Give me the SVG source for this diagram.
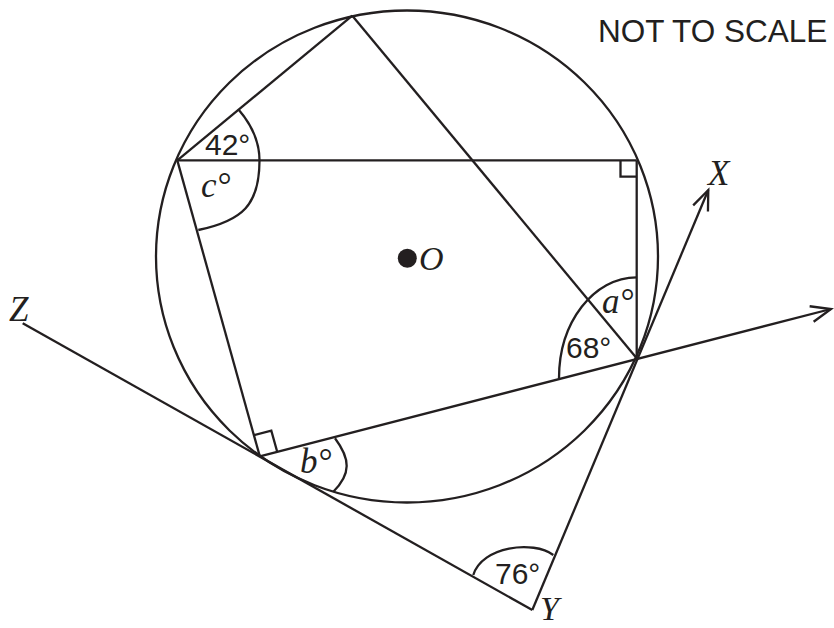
<svg xmlns="http://www.w3.org/2000/svg" width="834" height="628" viewBox="0 0 834 628">
<style>
.ln{fill:none;stroke:#231f20;stroke-width:2.3;stroke-linecap:butt;stroke-linejoin:miter}
.sans{font-family:"Liberation Sans",Arial,sans-serif;fill:#231f20}
.it{font-family:"Liberation Serif","Times New Roman",serif;font-style:italic;fill:#231f20}
</style>
<defs>
<marker id="arr" markerUnits="userSpaceOnUse" markerWidth="30" markerHeight="30" refX="20" refY="8" orient="auto" overflow="visible">
<path d="M0,0 L20,8 L0,16" fill="none" stroke="#231f20" stroke-width="2.3"/>
</marker>
</defs>
<rect width="834" height="628" fill="#ffffff"/>
<g id="circle">
<ellipse class="ln" cx="407" cy="256.5" rx="251" ry="246"/>
<circle cx="407.3" cy="258.3" r="9.5" fill="#231f20"/>
<text class="it" x="419" y="270" font-size="34">O</text>
</g>
<g id="connectors">
<path class="ln" d="M352.3,15.7 L177.3,160.4"/>
<path class="ln" d="M352.3,15.7 L636.7,358.3"/>
<path class="ln" d="M177.3,160.4 L636.7,160.4"/>
<path class="ln" d="M636.7,160.4 L636.7,358.3"/>
<path class="ln" d="M177.3,160.4 L259.8,456.3"/>
<path class="ln" d="M259.8,456.3 L831,309" marker-end="url(#arr)"/>
<path class="ln" d="M22.7,323.3 L532.3,610"/>
<path class="ln" d="M532.3,610 L708.3,190" marker-end="url(#arr)"/>
</g>
<g id="right-angles">
<path class="ln" d="M620.5,160.4 V176.6 H636.7"/>
<path class="ln" d="M253.9,435.1 L271.3,430.6 L277.2,451.8"/>
</g>
<g id="angle-L">
<path class="ln" d="M238.3,109.3 C251.4,124.4 259.5,140 259.5,160.4 C259.5,205 242.3,220.7 198.3,230"/>
<text class="sans" x="205" y="155" font-size="30">42°</text>
<text class="it" x="201" y="197" font-size="35">c°</text>
</g>
<g id="angle-P">
<path class="ln" d="M636.7,277.3 C593.7,277.3 559,322.3 559,378.3"/>
<text class="it" x="602" y="313" font-size="35">a°</text>
<text class="sans" x="566" y="358" font-size="30">68°</text>
</g>
<g id="angle-Q">
<path class="ln" d="M335,438.3 C350.4,458.9 351.3,473.7 333.3,491.7"/>
<text class="it" x="300" y="473" font-size="35">b°</text>
</g>
<g id="angle-Y">
<path class="ln" d="M473.3,575 C482,546.2 533.3,540 553.3,555"/>
<text class="sans" x="495" y="584" font-size="30">76°</text>
</g>
<g id="labels">
<text class="it" x="708" y="185" font-size="35">X</text>
<text class="it" x="540" y="620" font-size="34">Y</text>
<text class="it" x="9" y="321" font-size="35">Z</text>
<text class="sans" x="598" y="42" font-size="31.5">NOT TO SCALE</text>
</g>
</svg>
